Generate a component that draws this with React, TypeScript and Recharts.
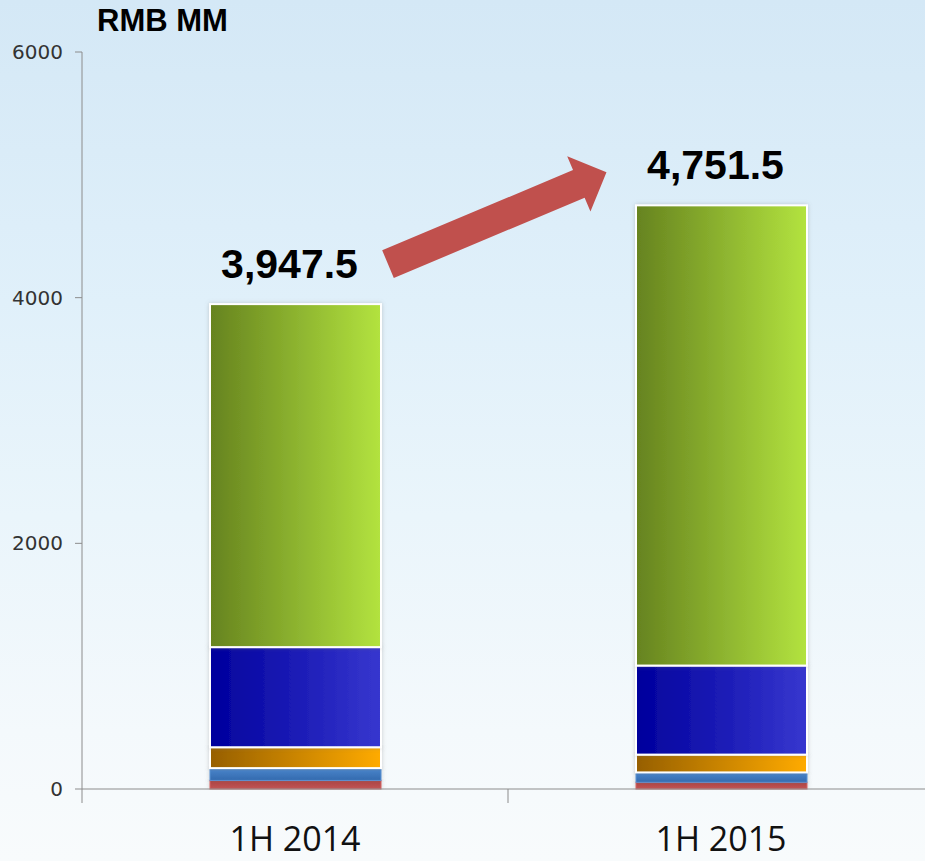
import React from "react";
import { BarChart, Bar, XAxis, YAxis, LabelList } from "recharts";

// values, RMB MM, stacked bottom -> top
const periods = ["1H 2014", "1H 2015"];
const redPart = [70, 55];
const bluePart = [100, 80];
const orangePart = [170, 145];
const navyPart = [815, 725];
const greenPart = [2792.5, 3746.5];
const yTicks = [0, 2000, 4000, 6000];
const unitLabel = "RMB MM";

const data = periods.map((period, i) => ({
  period,
  red: redPart[i],
  blue: bluePart[i],
  orange: orangePart[i],
  navy: navyPart[i],
  green: greenPart[i],
  total: redPart[i] + bluePart[i] + orangePart[i] + navyPart[i] + greenPart[i],
}));

const fmt = (v: number) =>
  v.toLocaleString("en-US", { minimumFractionDigits: 1, maximumFractionDigits: 1 });

const Segment = (props: any) => {
  const { x, y, width, height, fill, stroke, strokeWidth } = props;
  if (!height || height <= 0) return null;
  return (
    <rect
      x={x}
      y={y}
      width={width}
      height={height}
      fill={fill}
      stroke={stroke}
      strokeWidth={strokeWidth}
      filter="url(#segShadow)"
    />
  );
};

const CategoryTick = (props: any) => {
  const { x, y, payload } = props;
  const half = payload.offset || 213;
  const left = x - half;
  return (
    <g>
      <line x1={left} y1={y} x2={left} y2={y + 14} stroke="#8c8c8c" strokeWidth={1} />
      <text
        x={x}
        y={y + 62}
        textAnchor="middle"
        fontFamily="'Open Sans', sans-serif"
        fontSize={34}
        fill="#111"
      >
        {payload.value}
      </text>
    </g>
  );
};

const TotalLabel = (props: any) => {
  const { x, y, width, value, index } = props;
  const cx = x + width / 2 - 6;
  // arrow from first total towards the second
  const len = 237;
  const shaftHalf = 15;
  const headHalf = 30;
  const headLen = 30;
  const arrow = [
    [0, -shaftHalf],
    [len - headLen, -shaftHalf],
    [len - headLen, -headHalf],
    [len, 0],
    [len - headLen, headHalf],
    [len - headLen, shaftHalf],
    [0, shaftHalf],
  ]
    .map((p) => p.join(","))
    .join(" ");
  return (
    <g>
      <text
        x={cx}
        y={y - 26}
        textAnchor="middle"
        fontFamily="'Liberation Sans', Arial, sans-serif"
        fontWeight="bold"
        fontSize={41}
        fill="#000"
      >
        {fmt(value)}
      </text>
      {index === 0 && (
        <polygon
          points={arrow}
          fill="#c0504d"
          transform={`translate(${x + width + 7}, ${y - 40}) rotate(-22.8)`}
        />
      )}
    </g>
  );
};

export default function App() {
  return (
    <div
      style={{
        position: "fixed",
        left: 0,
        top: 0,
        width: 925,
        height: 861,
        overflow: "hidden",
        background:
          "linear-gradient(180deg, #d4e8f6 0%, #e0f0fa 35%, #eaf5fb 60%, #f4f9fc 85%, #f8fbfc 100%)",
      }}
    >
      <BarChart
        width={940}
        height={861}
        data={data}
        margin={{ top: 52, right: 6, bottom: 0, left: 0 }}
        barSize={171}
      >
        <defs>
          <linearGradient id="gGreen" x1="0" y1="0" x2="1" y2="0">
            <stop offset="0%" stopColor="#66831f" />
            <stop offset="100%" stopColor="#b3e33f" />
          </linearGradient>
          <linearGradient id="gNavy" x1="0" y1="0" x2="1" y2="0">
            <stop offset="0%" stopColor="#00009c" />
            <stop offset="100%" stopColor="#3737cf" />
          </linearGradient>
          <linearGradient id="gOrange" x1="0" y1="0" x2="1" y2="0">
            <stop offset="0%" stopColor="#965f00" />
            <stop offset="100%" stopColor="#ffab00" />
          </linearGradient>
          <linearGradient id="gBlue" x1="0" y1="0" x2="0" y2="1">
            <stop offset="0%" stopColor="#4b86cc" />
            <stop offset="100%" stopColor="#336aae" />
          </linearGradient>
          <linearGradient id="gRed" x1="0" y1="0" x2="0" y2="1">
            <stop offset="0%" stopColor="#a94444" />
            <stop offset="100%" stopColor="#c25555" />
          </linearGradient>
          <filter id="segShadow" x="-10%" y="-10%" width="120%" height="120%">
            <feDropShadow dx="0" dy="0" stdDeviation="2" floodColor="#7a7a7a" floodOpacity="0.35" />
          </filter>
        </defs>
        <text
          x={97}
          y={31}
          fontFamily="'Liberation Sans', Arial, sans-serif"
          fontWeight="bold"
          fontSize={31}
          fill="#000"
        >
          {unitLabel}
        </text>
        <XAxis
          dataKey="period"
          height={72}
          stroke="#8c8c8c"
          tickLine={false}
          tickSize={0}
          tickMargin={0}
          tick={<CategoryTick />}
          interval={0}
        />
        <YAxis
          width={82}
          domain={[0, 6000]}
          ticks={yTicks}
          stroke="#8c8c8c"
          tickSize={7}
          tickMargin={12}
          tick={{ fill: "#333", fontSize: 20, fontFamily: "'DejaVu Sans', sans-serif" }}
        />
        <Bar dataKey="red" stackId="s" fill="url(#gRed)" stroke="#d36565" strokeWidth={1} shape={<Segment />} isAnimationActive={false} />
        <Bar dataKey="blue" stackId="s" fill="url(#gBlue)" stroke="#5b93d4" strokeWidth={1} shape={<Segment />} isAnimationActive={false} />
        <Bar dataKey="orange" stackId="s" fill="url(#gOrange)" stroke="#ffffff" strokeWidth={2} shape={<Segment />} isAnimationActive={false} />
        <Bar dataKey="navy" stackId="s" fill="url(#gNavy)" stroke="#ffffff" strokeWidth={2} shape={<Segment />} isAnimationActive={false} />
        <Bar dataKey="green" stackId="s" fill="url(#gGreen)" stroke="#ffffff" strokeWidth={2} shape={<Segment />} isAnimationActive={false}>
          <LabelList dataKey="total" content={<TotalLabel />} />
        </Bar>
      </BarChart>
    </div>
  );
}
